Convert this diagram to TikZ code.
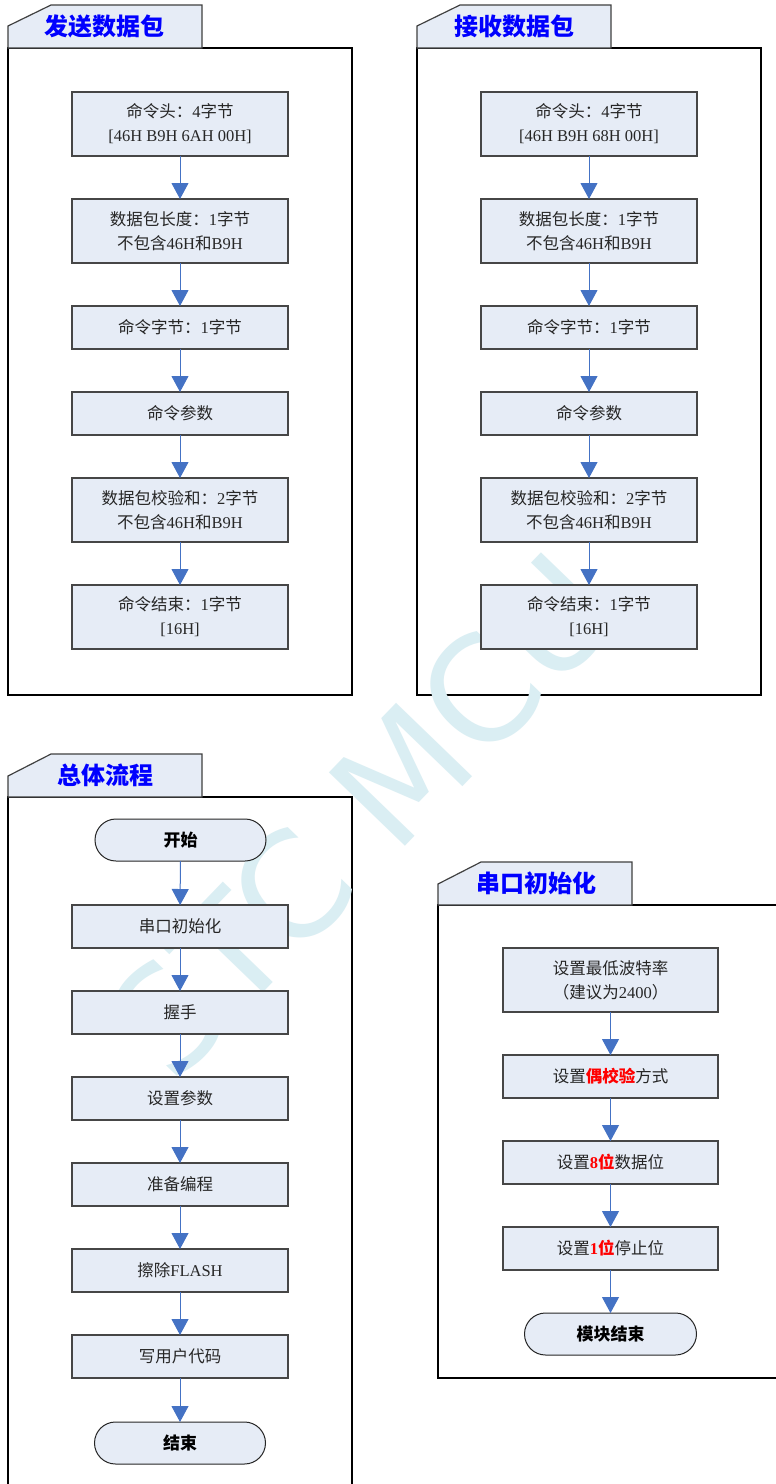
\documentclass[tikz,border=0pt]{standalone}
\usepackage{fontspec}
\setmainfont{Liberation Serif}
\newfontfamily\latinfont{Liberation Serif}
\newfontfamily\cjk{Noto Sans CJK SC}
\newfontfamily\wmfont{DejaVu Sans}
\usetikzlibrary{positioning,arrows.meta}

\definecolor{boxfill}{RGB}{230,236,246}
\definecolor{boxline}{RGB}{70,70,70}
\definecolor{flowblue}{RGB}{68,114,196}
\definecolor{titleblue}{RGB}{0,0,255}
\definecolor{wmcyan}{RGB}{218,238,243}

% switch between Latin and CJK fonts character by character
\newXeTeXintercharclass\cjkclass
\count255="4E00
\loop\XeTeXcharclass\count255=\cjkclass\advance\count255 by 1 \ifnum\count255<"A000 \repeat
\count255="3000
\loop\XeTeXcharclass\count255=\cjkclass\advance\count255 by 1 \ifnum\count255<"3040 \repeat
\count255="FF00
\loop\XeTeXcharclass\count255=\cjkclass\advance\count255 by 1 \ifnum\count255<"FFF0 \repeat
\XeTeXinterchartoks 0 \cjkclass = {\cjk}
\XeTeXinterchartoks 4095 \cjkclass = {\cjk}
\XeTeXinterchartoks \cjkclass 0 = {\latinfont}
\XeTeXinterchartoks 4095 0 = {\latinfont}

\tikzset{
  stepbox/.style={draw=boxline, line width=1.1pt, fill=boxfill, text=black!85,
    minimum width=216pt, minimum height=43pt, inner sep=0pt, outer sep=0pt,
    align=center, font=\fontsize{16.5}{24}\selectfont},
  twoline/.style={stepbox, minimum height=64pt},
  termbox/.style={draw=black!85, line width=1pt, fill=boxfill, rounded corners=21pt,
    minimum width=171pt, minimum height=42pt, inner sep=0pt, outer sep=0pt,
    font=\bfseries\fontsize{17}{20}\selectfont},
  flow/.style={draw=flowblue, line width=1pt,
    -{Triangle[width=17pt,length=16pt,fill=flowblue]}},
  tabshape/.style={draw=black!75, line width=1.2pt, fill=boxfill},
  frame/.style={draw=black, line width=1.1pt},
  titletext/.style={text=titleblue, font=\bfseries\fontsize{24}{28}\selectfont}
}

\begin{document}
\XeTeXinterchartokenstate=1
\begin{tikzpicture}[x=1pt, y=-1pt]
  \useasboundingbox (0,0) rectangle (776,1484);
  \clip (0,0) rectangle (776,1484);
  \fill[white] (0,0) rectangle (776,1484);

  % panel frames and title tabs
  \draw[frame] (8,48) rectangle (352,695);
  \draw[tabshape] (8,48) -- (8,26) -- (51,5) -- (202,5) -- (202,48) -- cycle;
  \draw[frame] (417,48) rectangle (761,695);
  \draw[tabshape] (417,48) -- (417,26) -- (460,5) -- (611,5) -- (611,48) -- cycle;
  \draw[frame] (8,1500) -- (8,797) -- (352,797) -- (352,1500);
  \draw[tabshape] (8,797) -- (8,776) -- (51,754) -- (202,754) -- (202,797) -- cycle;
  \draw[frame] (790,905) -- (438,905) -- (438,1378) -- (790,1378);
  \draw[tabshape] (438,905) -- (438,884) -- (481,862) -- (632,862) -- (632,905) -- cycle;
  \node[titletext] (t1) at (105,26) {发送数据包};
  \node[titletext] (t2) at (514,26) {接收数据包};
  \node[titletext] (t3) at (105,775) {总体流程};
  \node[titletext] (t4) at (536,883) {串口初始化};

  % watermark
  \node[rotate=46, text=wmcyan,
    font={\XeTeXinterchartokenstate=0\relax\wmfont\fontsize{145}{145}\selectfont}]
    (wm) at (362,815) {STC MCU};

  % send packet
  \node[twoline] (s1) at (180,124) {命令头：4字节\\{[}46H B9H 6AH 00H{]}};
  \node[twoline, below=43pt of s1] (s2) {数据包长度：1字节\\不包含46H和B9H};
  \node[stepbox, below=43pt of s2] (s3) {命令字节：1字节};
  \node[stepbox, below=43pt of s3] (s4) {命令参数};
  \node[twoline, below=43pt of s4] (s5) {数据包校验和：2字节\\不包含46H和B9H};
  \node[twoline, below=43pt of s5] (s6) {命令结束：1字节\\{[}16H{]}};
  \foreach \a/\b in {s1/s2,s2/s3,s3/s4,s4/s5,s5/s6}
    \draw[flow] (\a) -- (\b);

  % receive packet
  \node[twoline] (r1) at (589,124) {命令头：4字节\\{[}46H B9H 68H 00H{]}};
  \node[twoline, below=43pt of r1] (r2) {数据包长度：1字节\\不包含46H和B9H};
  \node[stepbox, below=43pt of r2] (r3) {命令字节：1字节};
  \node[stepbox, below=43pt of r3] (r4) {命令参数};
  \node[twoline, below=43pt of r4] (r5) {数据包校验和：2字节\\不包含46H和B9H};
  \node[twoline, below=43pt of r5] (r6) {命令结束：1字节\\{[}16H{]}};
  \foreach \a/\b in {r1/r2,r2/r3,r3/r4,r4/r5,r5/r6}
    \draw[flow] (\a) -- (\b);

  % overall flow
  \node[termbox] (g0) at (180.5,840) {开始};
  \node[stepbox] (g1) at (180,926.5) {串口初始化};
  \node[stepbox, below=43pt of g1] (g2) {握手};
  \node[stepbox, below=43pt of g2] (g3) {设置参数};
  \node[stepbox, below=43pt of g3] (g4) {准备编程};
  \node[stepbox, below=43pt of g4] (g5) {擦除FLASH};
  \node[stepbox, below=43pt of g5] (g6) {写用户代码};
  \node[termbox, below=44pt of g6] (g7) {结束};
  \foreach \a/\b in {g0/g1,g1/g2,g2/g3,g3/g4,g4/g5,g5/g6,g6/g7}
    \draw[flow] (\a) -- (\b);

  % serial port init
  \node[twoline, minimum width=215pt] (u1) at (610.5,980) {设置最低波特率\\（建议为2400）};
  \node[stepbox, minimum width=215pt, below=43pt of u1] (u2)
    {设置{\color{red}\bfseries 偶校验}方式};
  \node[stepbox, minimum width=215pt, below=43pt of u2] (u3)
    {设置{\color{red}\bfseries 8位}数据位};
  \node[stepbox, minimum width=215pt, below=43pt of u3] (u4)
    {设置{\color{red}\bfseries 1位}停止位};
  \node[termbox, minimum width=172pt, below=43pt of u4] (u5) {模块结束};
  \foreach \a/\b in {u1/u2,u2/u3,u3/u4,u4/u5}
    \draw[flow] (\a) -- (\b);
\end{tikzpicture}
\end{document}
